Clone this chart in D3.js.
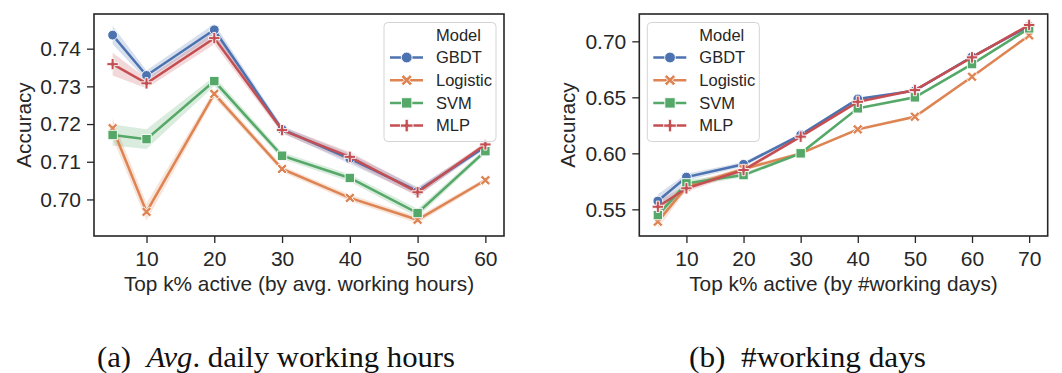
<!DOCTYPE html>
<html>
<head>
<meta charset="utf-8">
<script src="https://cdn.jsdelivr.net/npm/d3@7"></script>
<style>
  body { margin: 0; background: #fff; }
  svg { display: block; }
  text { font-family: "Liberation Sans", Arial, sans-serif; fill: #262626; }
  text.caption { font-family: "Liberation Serif", "Times New Roman", serif; fill: #111; }
</style>
</head>
<body>
<div id="chart"></div>
<script>
const models = ['GBDT', 'Logistic', 'SVM', 'MLP'];
const colors = ['#4c72b0', '#dd8452', '#55a868', '#c44e52'];

// panel (a): top k% by avg. working hours
const kHours = [5, 10, 20, 30, 40, 50, 60];
const hoursGBDT     = [0.7436, 0.7329, 0.7450, 0.7186, 0.7108, 0.7022, 0.7140];
const hoursLogistic = [0.7189, 0.6967, 0.7280, 0.7081, 0.7004, 0.6946, 0.7051];
const hoursSVM      = [0.7171, 0.7160, 0.7314, 0.7116, 0.7057, 0.6964, 0.7128];
const hoursMLP      = [0.7359, 0.7308, 0.7428, 0.7184, 0.7113, 0.7019, 0.7146];
// half width of the shaded band
const hoursErrGBDT     = [0.0024, 0.0013, 0.0016, 0.0009, 0.0013, 0.0011, 0.0006];
const hoursErrLogistic = [0.0026, 0.0023, 0.0011, 0.0008, 0.0009, 0.0009, 0.0006];
const hoursErrSVM      = [0.0028, 0.0026, 0.0013, 0.0009, 0.0010, 0.0011, 0.0007];
const hoursErrMLP      = [0.0030, 0.0013, 0.0016, 0.0009, 0.0013, 0.0011, 0.0006];
const hoursYTicks = [0.70, 0.71, 0.72, 0.73, 0.74];
const hoursXTicks = [10, 20, 30, 40, 50, 60];

// panel (b): top k% by #working days
const kDays = [5, 10, 20, 30, 40, 50, 60, 70];
const daysGBDT     = [0.5574, 0.5788, 0.5902, 0.6165, 0.6485, 0.6560, 0.6862, 0.7135];
const daysLogistic = [0.5390, 0.5700, 0.5860, 0.6000, 0.6214, 0.6327, 0.6684, 0.7053];
const daysSVM      = [0.5449, 0.5732, 0.5806, 0.6000, 0.6402, 0.6500, 0.6797, 0.7116];
const daysMLP      = [0.5523, 0.5688, 0.5851, 0.6149, 0.6460, 0.6565, 0.6857, 0.7146];
const daysErrGBDT     = [0.006, 0.003, 0.002, 0.0012, 0.0012, 0.0012, 0.0012, 0.0012];
const daysErrLogistic = [0.006, 0.003, 0.002, 0.0012, 0.0012, 0.0012, 0.0012, 0.0012];
const daysErrSVM      = [0.006, 0.003, 0.002, 0.0012, 0.0012, 0.0012, 0.0012, 0.0012];
const daysErrMLP      = [0.005, 0.003, 0.002, 0.0012, 0.0012, 0.0012, 0.0012, 0.0012];
const daysYTicks = [0.55, 0.60, 0.65, 0.70];
const daysXTicks = [10, 20, 30, 40, 50, 60, 70];

const width = 1062, height = 373;

const svg = d3.select('#chart').append('svg')
  .attr('width', width)
  .attr('height', height);

// filled plus, used for 'P' and (rotated) 'X' markers
function plusPath(L, t) {
  return `M${-t},${-L}L${t},${-L}L${t},${-t}L${L},${-t}L${L},${t}L${t},${t}L${t},${L}` +
    `L${-t},${L}L${-t},${t}L${-L},${t}L${-L},${-t}L${-t},${-t}Z`;
}

function drawMarker(g, i, x, y, scale = 1) {
  const m = g.append('g').attr('transform', `translate(${x},${y})`);
  let shape;
  if (i === 0) {
    shape = m.append('circle').attr('r', 4.9 * scale);
  } else if (i === 2) {
    const s = 4.7 * scale;
    shape = m.append('rect').attr('x', -s).attr('y', -s).attr('width', 2 * s).attr('height', 2 * s);
  } else {
    shape = m.append('path').attr('d', plusPath(5.7 * scale, 1.5 * scale));
    if (i === 1) shape.attr('transform', 'rotate(45)');
  }
  shape.attr('fill', colors[i]).attr('stroke', '#fff').attr('stroke-width', 0.9);
}

function drawPanel(o) {
  const { left, right, top, bottom } = o.box;
  const x = d3.scaleLinear().domain(o.xDomain).range([left, right]);
  const y = d3.scaleLinear().domain(o.yDomain).range([bottom, top]);
  const g = svg.append('g');

  // bands first, lines on top
  models.forEach((m, i) => {
    const area = d3.area()
      .x((d, j) => x(o.k[j]))
      .y0((d, j) => y(o.series[i][j] - o.errs[i][j]))
      .y1((d, j) => y(o.series[i][j] + o.errs[i][j]));
    g.append('path')
      .attr('d', area(o.k))
      .attr('fill', colors[i])
      .attr('fill-opacity', 0.22)
      .attr('stroke', 'none');
  });

  const line = d3.line().x(d => x(d[0])).y(d => y(d[1]));
  models.forEach((m, i) => {
    const pts = o.k.map((kk, j) => [kk, o.series[i][j]]);
    g.append('path')
      .attr('d', line(pts))
      .attr('fill', 'none')
      .attr('stroke', colors[i])
      .attr('stroke-width', 2.5);
    pts.forEach(p => drawMarker(g, i, x(p[0]), y(p[1])));
  });

  // axes
  const xAxis = g.append('g')
    .attr('transform', `translate(0,${bottom})`)
    .call(d3.axisBottom(x).tickValues(o.xTicks).tickSize(7).tickPadding(8).tickFormat(d3.format('d')));
  const yAxis = g.append('g')
    .attr('transform', `translate(${left},0)`)
    .call(d3.axisLeft(y).tickValues(o.yTicks).tickSize(7).tickPadding(6).tickFormat(d3.format('.2f')));
  [xAxis, yAxis].forEach(a => {
    a.select('.domain').remove();
    a.selectAll('.tick line').attr('stroke', '#262626').attr('stroke-width', 1.3);
    a.selectAll('.tick text')
      .style('font-size', '21px')
      .attr('fill', '#262626');
  });

  g.append('rect')
    .attr('x', left).attr('y', top)
    .attr('width', right - left).attr('height', bottom - top)
    .attr('fill', 'none')
    .attr('stroke', '#262626')
    .attr('stroke-width', 1.6);

  g.append('text')
    .attr('x', (left + right) / 2)
    .attr('y', 291)
    .attr('text-anchor', 'middle')
    .style('font-size', '20.8px')
    .text(o.xLabel);

  g.append('text')
    .attr('transform', `translate(${o.yLabelX},${(top + bottom) / 2}) rotate(-90)`)
    .attr('text-anchor', 'middle')
    .attr('dy', '0.35em')
    .style('font-size', '20.8px')
    .text('Accuracy');

  // legend
  const lx = o.legendX, ly = 22.5;
  const lg = g.append('g');
  lg.append('rect')
    .attr('x', lx).attr('y', ly)
    .attr('width', 112).attr('height', 119)
    .attr('rx', 4)
    .attr('fill', '#fff').attr('fill-opacity', 0.8)
    .attr('stroke', '#d4d4d4').attr('stroke-width', 1);
  lg.append('text')
    .attr('x', lx + 52).attr('y', ly + 12.5)
    .attr('dy', '0.35em')
    .style('font-size', '16.5px')
    .text('Model');
  models.forEach((m, i) => {
    const ry = ly + 35 + i * 22.7;
    lg.append('line')
      .attr('x1', lx + 6).attr('x2', lx + 39)
      .attr('y1', ry).attr('y2', ry)
      .attr('stroke', colors[i]).attr('stroke-width', 2.5);
    drawMarker(lg, i, lx + 22.7, ry, 1.1);
    lg.append('text')
      .attr('x', lx + 52).attr('y', ry)
      .attr('dy', '0.35em')
      .style('font-size', '16.5px')
      .text(m);
  });
}

drawPanel({
  box: { left: 94, right: 504, top: 14, bottom: 236 },
  k: kHours,
  series: [hoursGBDT, hoursLogistic, hoursSVM, hoursMLP],
  errs: [hoursErrGBDT, hoursErrLogistic, hoursErrSVM, hoursErrMLP],
  xDomain: [2.25, 62.75],
  yDomain: [0.6903, 0.7492],
  xTicks: hoursXTicks,
  yTicks: hoursYTicks,
  xLabel: 'Top k% active (by avg. working hours)',
  yLabelX: 24,
  legendX: 384
});

drawPanel({
  box: { left: 639.3, right: 1047.7, top: 14, bottom: 236 },
  k: kDays,
  series: [daysGBDT, daysLogistic, daysSVM, daysMLP],
  errs: [daysErrGBDT, daysErrLogistic, daysErrSVM, daysErrMLP],
  xDomain: [1.75, 73.25],
  yDomain: [0.5262, 0.7244],
  xTicks: daysXTicks,
  yTicks: daysYTicks,
  xLabel: 'Top k% active (by #working days)',
  yLabelX: 568,
  legendX: 647.3
});

// sub-figure captions
const capA = svg.append('text')
  .attr('class', 'caption')
  .attr('x', 97).attr('y', 367)
  .attr('textLength', 358).attr('lengthAdjust', 'spacingAndGlyphs')
  .style('font-size', '30px');
capA.append('tspan').text('(a)\u00a0\u00a0');
capA.append('tspan').style('font-style', 'italic').text('Avg');
capA.append('tspan').text('. daily working hours');

svg.append('text')
  .attr('class', 'caption')
  .attr('x', 689).attr('y', 367)
  .attr('textLength', 237).attr('lengthAdjust', 'spacingAndGlyphs')
  .style('font-size', '30px')
  .text('(b)\u00a0\u00a0#working days');
</script>
</body>
</html>
